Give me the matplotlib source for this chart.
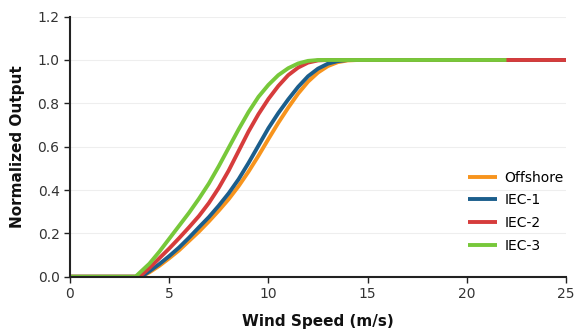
import numpy as np
import matplotlib.pyplot as plt

# wind speed (m/s) and normalized output
ws_offshore = [0, 3.6, 4, 4.5, 5, 5.5, 6, 6.5, 7, 7.5, 8, 8.5, 9, 9.5, 10, 10.5, 11, 11.5, 12, 12.5, 13, 13.5, 14, 14.5, 25]
p_offshore = [0, 0, 0.02, 0.05, 0.085, 0.122, 0.165, 0.208, 0.255, 0.305, 0.358, 0.418, 0.485, 0.558, 0.635, 0.71, 0.78, 0.845, 0.9, 0.942, 0.972, 0.99, 0.998, 1.0, 1.0]

ws_iec1 = [0, 3.6, 4, 4.5, 5, 5.5, 6, 6.5, 7, 7.5, 8, 8.5, 9, 9.5, 10, 10.5, 11, 11.5, 12, 12.5, 13, 13.5, 14, 25]
p_iec1 = [0, 0, 0.025, 0.058, 0.095, 0.135, 0.18, 0.228, 0.275, 0.328, 0.385, 0.45, 0.525, 0.605, 0.685, 0.755, 0.818, 0.876, 0.925, 0.96, 0.983, 0.995, 1.0, 1.0]

ws_iec2 = [0, 3.5, 4, 4.5, 5, 5.5, 6, 6.5, 7, 7.5, 8, 8.5, 9, 9.5, 10, 10.5, 11, 11.5, 12, 12.5, 13, 25]
p_iec2 = [0, 0, 0.04, 0.085, 0.13, 0.178, 0.228, 0.28, 0.34, 0.41, 0.49, 0.58, 0.67, 0.75, 0.82, 0.88, 0.93, 0.965, 0.988, 0.998, 1.0, 1.0]

ws_iec3 = [0, 3.3, 4, 4.5, 5, 5.5, 6, 6.5, 7, 7.5, 8, 8.5, 9, 9.5, 10, 10.5, 11, 11.5, 12, 12.5, 22]
p_iec3 = [0, 0, 0.06, 0.115, 0.175, 0.235, 0.295, 0.36, 0.43, 0.51, 0.595, 0.68, 0.76, 0.83, 0.885, 0.93, 0.962, 0.984, 0.996, 1.0, 1.0]

labels = ['Offshore', 'IEC-1', 'IEC-2', 'IEC-3']
colors = ['#f7941d', '#1b5e8c', '#d63c3c', '#77c83a']

fig = plt.figure(figsize=(5.75, 3.33), dpi=100)
ax = fig.add_axes([0.1217, 0.169, 0.8626, 0.781])

series = [(ws_offshore, p_offshore), (ws_iec1, p_iec1), (ws_iec2, p_iec2), (ws_iec3, p_iec3)]
for (x, y), lab, c in zip(series, labels, colors):
    ax.plot(x, y, color=c, lw=2.8, label=lab, solid_capstyle='butt', solid_joinstyle='round')

ax.set_xlim(0, 25)
ax.set_ylim(0, 1.2)
ax.set_xticks([0, 5, 10, 15, 20, 25])
ax.set_yticks(np.arange(0, 1.21, 0.2))
ax.yaxis.set_major_formatter(plt.FormatStrFormatter('%.1f'))
ax.grid(axis='y', color='#eeeeee', lw=0.8)
ax.set_axisbelow(True)
for s in ['top', 'right']:
    ax.spines[s].set_visible(False)
for s in ['left', 'bottom']:
    ax.spines[s].set_linewidth(1.5)
    ax.spines[s].set_color('#222222')
ax.tick_params(colors='#222222', labelcolor='#333333', labelsize=10, width=1, length=4)

ax.set_xlabel('Wind Speed (m/s)', fontsize=11, fontweight='bold', color='#111111', labelpad=9)
ax.set_ylabel('Normalized Output', fontsize=11, fontweight='bold', color='#111111', labelpad=9)

ax.legend(loc='lower right', bbox_to_anchor=(1.02, 0.045), frameon=False, fontsize=10,
          handlelength=2.1, handletextpad=0.5, labelspacing=0.62)

fig.savefig('out.png', dpi=100)
